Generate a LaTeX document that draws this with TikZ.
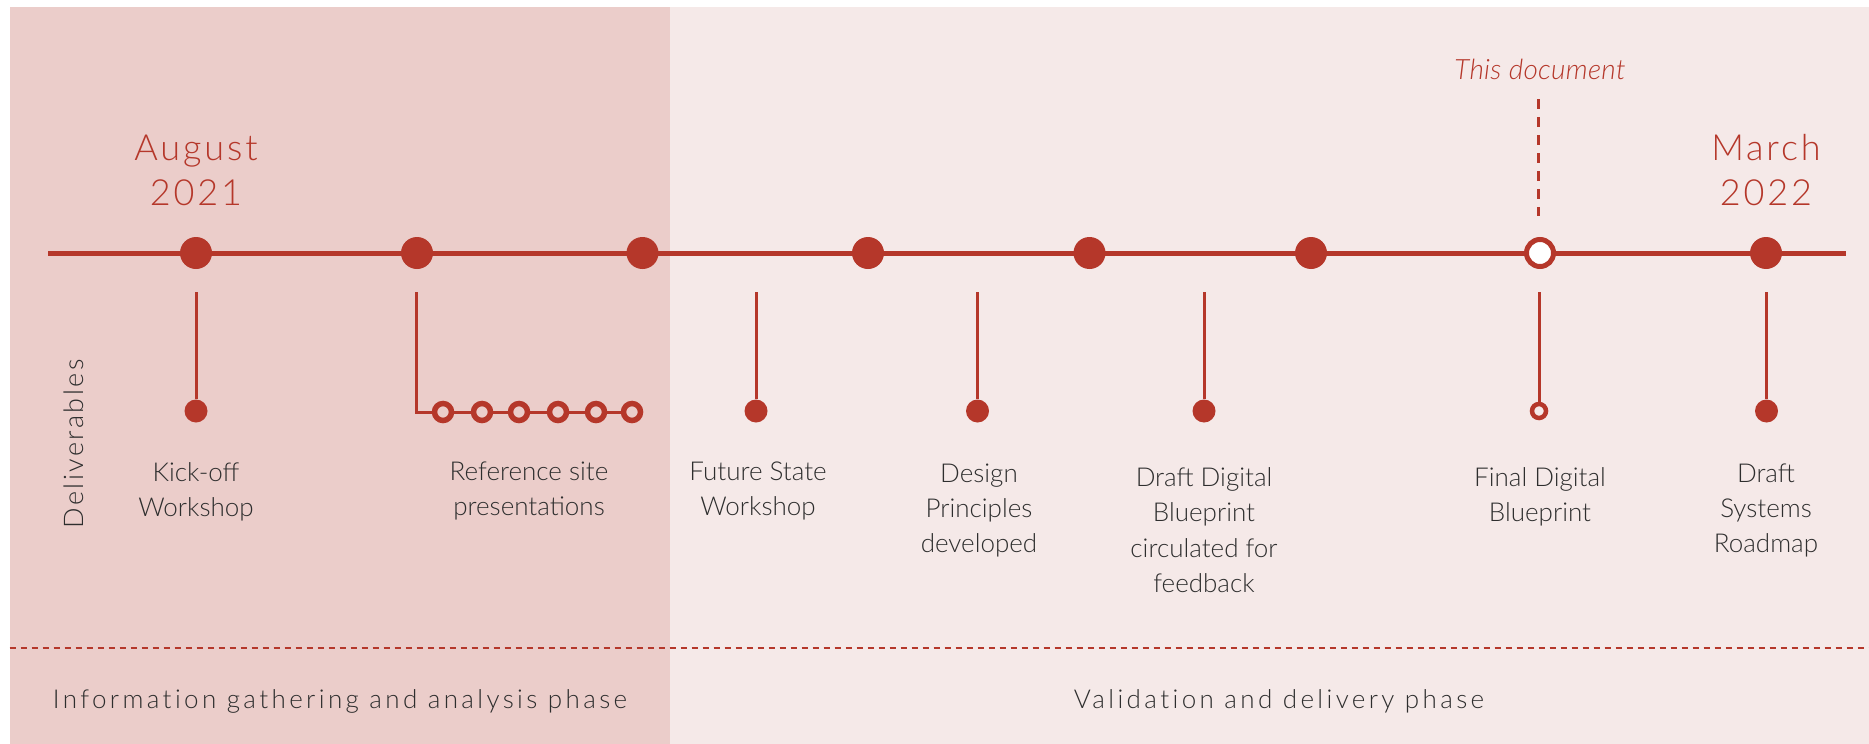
\documentclass[tikz,border=0pt]{standalone}
\usepackage{fontspec}
\IfFontExistsTF{Lato Light}{%
  \IfFontExistsTF{Lato Light Italic}%
    {\setmainfont{Lato Light}[ItalicFont={Lato Light Italic}]}%
    {\setmainfont{Lato Light}}}%
  {\setmainfont{Lato}}
\definecolor{tred}{HTML}{B5372A}
\definecolor{panelA}{HTML}{EBCDCA}
\definecolor{panelB}{HTML}{F5E9E8}
\definecolor{ttext}{HTML}{2E2E2E}
\tikzset{
  bigdot/.style={circle,fill=tred,minimum size=32pt,inner sep=0pt},
  bigopen/.style={circle,draw=tred,line width=5pt,fill=white,minimum size=27pt,inner sep=0pt},
  smalldot/.style={circle,fill=tred,minimum size=23pt,inner sep=0pt},
  smallopen/.style={circle,draw=tred,line width=5.5pt,fill=#1,minimum size=17pt,inner sep=0pt},
  drop/.style={draw=tred,line width=3pt},
  lbl/.style={text=ttext,align=center,anchor=north,inner sep=0pt,
    font=\fontsize{26}{35}\selectfont},
  datelbl/.style={text=tred,align=center,anchor=north,inner sep=0pt,
    font=\fontsize{36}{45}\selectfont\addfontfeature{LetterSpace=8}},
  phase/.style={text=ttext,anchor=base,inner sep=0pt,
    font=\fontsize{26}{30}\selectfont\addfontfeature{LetterSpace=13,Ligatures=NoCommon}},
}
\begin{document}
\begin{tikzpicture}[x=1pt,y=-1pt]
\useasboundingbox (0,0) rectangle (1869,744);
\fill[white] (0,0) rectangle (1869,744);
\fill[panelA] (9.5,7) rectangle (670,744);
\fill[panelB] (670,7) rectangle (1869,744);
% phase separator
\coordinate (sepL) at (9.5,648);
\coordinate (sepR) at (1869,648);
\draw[tred,line width=1.8pt,dash pattern=on 6pt off 5pt] (sepL) -- (sepR);
% timeline
\coordinate (tl0) at (48,253);
\coordinate (tl1) at (1846,253);
\draw[tred,line width=5pt] (tl0) -- (tl1);
\node[bigdot] (m1) at (196,253) {};
\node[bigdot] (m2) at (417,253) {};
\node[bigdot] (m3) at (642.5,253) {};
\node[bigdot] (m4) at (868,253) {};
\node[bigdot] (m5) at (1089.5,253) {};
\node[bigdot] (m6) at (1311,253) {};
\node[bigopen] (m7) at (1540,253) {};
\node[bigdot] (m8) at (1766,253) {};
% dates
\node[datelbl] (aug) at (196,134.5) {August\\2021};
\node[datelbl] (mar) at (1766,134.5) {March\\2022};
% this document
\node[text=tred,anchor=base,inner sep=0pt,font=\fontsize{28}{30}\selectfont\itshape\addfontfeature{LetterSpace=1}] (thisdoc) at (1540,79) {This document};
\coordinate (dA) at (1538,99);
\coordinate (dB) at (1538,216);
\draw[tred,line width=3pt,dash pattern=on 10pt off 8pt] (dA) -- (dB);
% deliverables label
\node[text=ttext,rotate=90,inner sep=0pt,font=\fontsize{27}{30}\selectfont\addfontfeature{LetterSpace=9}] (deliv) at (74,444) {Deliverables};
% drops
\coordinate (s1) at (196,292);
\node[smalldot] (d1) at (196,411) {};
\draw[drop] (s1) -- (d1);
\coordinate (s2) at (416.5,292);
\coordinate (c2) at (416.5,412);
\node[smallopen=panelA] (r1) at (443,412) {};
\node[smallopen=panelA] (r2) at (482,412) {};
\node[smallopen=panelA] (r3) at (519,412) {};
\node[smallopen=panelA] (r4) at (558,412) {};
\node[smallopen=panelA] (r5) at (596,412) {};
\node[smallopen=panelA] (r6) at (632,412) {};
\draw[drop] (s2) -- (c2) -- (r1) -- (r2) -- (r3) -- (r4) -- (r5) -- (r6);
\coordinate (s3) at (756,292);
\node[smalldot] (d3) at (756,411) {};
\draw[drop] (s3) -- (d3);
\coordinate (s4) at (977.5,292);
\node[smalldot] (d4) at (977.5,411) {};
\draw[drop] (s4) -- (d4);
\coordinate (s5) at (1204,292);
\node[smalldot] (d5) at (1204,411) {};
\draw[drop] (s5) -- (d5);
\coordinate (s7) at (1539,292);
\node[smallopen=panelB,minimum size=14pt,line width=4.5pt] (d7) at (1539,411) {};
\draw[drop] (s7) -- (d7);
\coordinate (s8) at (1766.5,292);
\node[smalldot] (d8) at (1766.5,411) {};
\draw[drop] (s8) -- (d8);
% labels
\node[lbl] (l1) at (196,462) {Kick-off\\Workshop};
\node[lbl] (l2) at (529,462) {Reference site\\presentations};
\node[lbl] (l3) at (758,462) {Future State\\Workshop};
\node[lbl] (l4) at (979,464) {Design\\Principles\\developed};
\node[lbl,font=\fontsize{26}{35.5}\selectfont] (l5) at (1204,467) {Draft Digital\\Blueprint\\circulated for\\feedback};
\node[lbl] (l7) at (1540,467) {Final Digital\\Blueprint};
\node[lbl] (l8) at (1766,464) {Draft\\Systems\\Roadmap};
% phases
\node[phase] (p1) at (340,708) {Information gathering and analysis phase};
\node[phase] (p2) at (1279,708) {Validation and delivery phase};
\end{tikzpicture}
\end{document}
